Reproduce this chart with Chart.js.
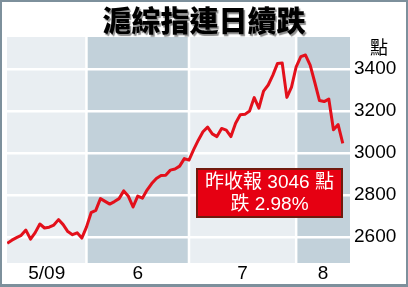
<!DOCTYPE html>
<html>
<head>
<meta charset="utf-8">
<script src="https://cdn.jsdelivr.net/npm/chart.js@4.4.1/dist/chart.umd.min.js"></script>
<style>
html,body{margin:0;padding:0;background:#fff;}
canvas{display:block;}
</style>
</head>
<body>
<canvas id="c" width="408" height="287"></canvas>
<script>
const titleText = '滬綜指連日續跌';
const unitLabel = '點';
const monthLabels = ['5/09', '6', '7', '8'];
const monthDays = [18, 22, 23, 10];
const closes = [
  2569, 2584, 2596, 2607, 2632, 2589, 2620, 2661, 2642, 2646,
  2656, 2682, 2658, 2625, 2610, 2619, 2594, 2646,
  2715, 2726, 2782, 2769, 2756, 2768, 2782, 2819, 2793, 2742,
  2794, 2784, 2823, 2854, 2878, 2892, 2894, 2918, 2923, 2937,
  2973, 2966,
  3016, 3061, 3101, 3123, 3091, 3078, 3117, 3109, 3078, 3142,
  3182, 3184, 3200, 3264, 3214, 3295, 3324, 3371, 3427, 3429,
  3265, 3314, 3411,
  3459, 3467, 3419, 3336, 3250, 3245, 3257, 3111, 3135, 3046
];
const yTicks = [2600, 2800, 3000, 3200, 3400];
const noteLines = ['昨收報 3046 點', '跌 2.98%'];

const FONT = '"Liberation Sans", Arial, "Noto Sans CJK TC", sans-serif';
const FRAME = '#7d909c';
const LIGHT = '#e9eef2';
const DARK = '#c2d1da';

function bandEdges(chart) {
  const xs = chart.scales.x;
  const area = chart.chartArea;
  const edges = [area.left];
  let cum = 0;
  for (let m = 0; m < monthDays.length - 1; m++) {
    cum += monthDays[m];
    edges.push(xs.getPixelForValue(cum - 1));
  }
  edges.push(area.right);
  return edges;
}

const decor = {
  id: 'decor',
  beforeDraw(chart) {
    const ctx = chart.ctx;
    const W = chart.width, H = chart.height;
    const a = chart.chartArea;
    ctx.save();
    ctx.fillStyle = '#fff';
    ctx.fillRect(0, 0, W, H);
    ctx.fillStyle = FRAME;
    ctx.fillRect(0, 0, W, 2);
    ctx.fillRect(0, 0, 2, H);
    ctx.fillRect(W - 2, 0, 2, H);
    ctx.fillRect(0, H - 3, W, 3);
    const e = bandEdges(chart);
    for (let i = 0; i < e.length - 1; i++) {
      ctx.fillStyle = i % 2 === 0 ? LIGHT : DARK;
      ctx.fillRect(e[i], a.top, e[i + 1] - e[i], a.bottom - a.top);
    }
    ctx.strokeStyle = '#fff';
    ctx.lineWidth = 2.5;
    for (let i = 1; i < e.length - 1; i++) {
      ctx.beginPath();
      ctx.moveTo(e[i], a.top);
      ctx.lineTo(e[i], a.bottom);
      ctx.stroke();
    }
    ctx.restore();
  },
  afterDraw(chart) {
    const ctx = chart.ctx;
    const a = chart.chartArea;
    ctx.save();
    // title
    ctx.font = '900 29px "Noto Sans CJK TC", sans-serif';
    ctx.textAlign = 'center';
    ctx.textBaseline = 'middle';
    ctx.shadowColor = 'rgba(0,0,0,0.45)';
    ctx.shadowOffsetX = 1.5;
    ctx.shadowOffsetY = 1.5;
    ctx.shadowBlur = 1;
    ctx.fillStyle = '#000';
    ctx.fillText(titleText, 204, 21);
    ctx.shadowColor = 'transparent';
    // unit label
    ctx.font = '18px "Noto Sans CJK TC", sans-serif';
    ctx.fillText(unitLabel, 379, 47);
    // month labels
    ctx.font = '19px ' + FONT;
    const e = bandEdges(chart);
    for (let i = 0; i < monthLabels.length; i++) {
      ctx.fillText(monthLabels[i], (e[i] + e[i + 1]) / 2, a.bottom + 11);
    }
    // note box
    const bx = 196, by = 168, bw = 147, bh = 50;
    ctx.fillStyle = '#e60012';
    ctx.fillRect(bx, by, bw, bh);
    ctx.strokeStyle = '#701a0e';
    ctx.lineWidth = 2;
    ctx.strokeRect(bx + 1, by + 1, bw - 2, bh - 2);
    ctx.fillStyle = '#fff';
    ctx.font = '19px ' + FONT;
    ctx.fillText(noteLines[0], bx + bw / 2, by + 15);
    ctx.fillText(noteLines[1], bx + bw / 2, by + 37);
    ctx.restore();
  }
};

new Chart(document.getElementById('c'), {
  type: 'line',
  data: {
    datasets: [{
      data: closes.map((v, i) => ({ x: i, y: v })),
      borderColor: '#e3101b',
      borderWidth: 3,
      pointRadius: 0,
      tension: 0,
      borderJoinStyle: 'round',
      fill: false
    }]
  },
  options: {
    responsive: false,
    devicePixelRatio: 1,
    animation: false,
    events: [],
    layout: { padding: { left: 7, top: 37, bottom: 24, right: 0 } },
    plugins: { legend: { display: false }, tooltip: { enabled: false } },
    scales: {
      x: {
        type: 'linear',
        display: false,
        min: -0.05,
        max: 73.55
      },
      y: {
        position: 'right',
        min: 2475,
        max: 3553,
        afterBuildTicks: s => { s.ticks = yTicks.map(v => ({ value: v })); },
        afterFit: s => { s.width = 58; },
        grid: { color: '#fff', lineWidth: 2.5, drawTicks: false },
        border: { display: false },
        ticks: {
          padding: 4,
          color: '#000',
          font: { size: 19, family: FONT },
          callback: v => String(v)
        }
      }
    }
  },
  plugins: [decor]
});
</script>
</body>
</html>
